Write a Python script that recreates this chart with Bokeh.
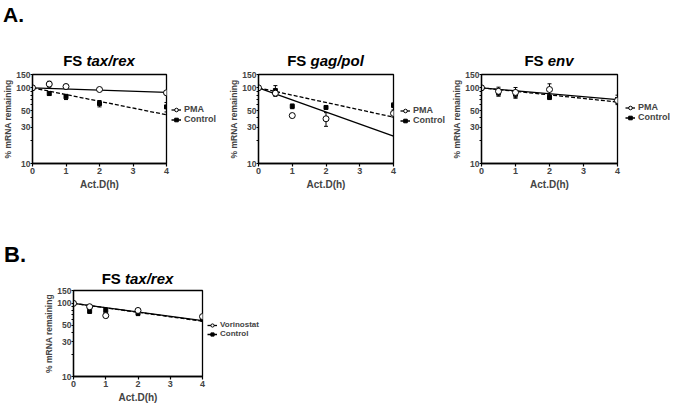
from bokeh.plotting import figure
from bokeh.models import (ColumnDataSource, Whisker, TeeHead, FixedTicker, Legend,
                          LegendItem, NumeralTickFormatter, Div)
from bokeh.layouts import row, column
from bokeh.embed import file_html
from bokeh.resources import INLINE

# ---------------- data ----------------
time_h = [0, 0.5, 1, 2, 4]
fit_t = [0, 4]
y_ticks = [10, 30, 50, 100, 150]
y_minor = [20, 40, 60, 70, 80, 90]
x_ticks = [0, 1, 2, 3, 4]

# A. FS tax/rex
taxrex_pma = [100, 112, 104, 95, 86]
taxrex_pma_err = [0, 10, 7, 3, 5]
taxrex_ctrl = [100, 84, 76, 62, 56]
taxrex_ctrl_err = [0, 4, 6, 6, 8]
taxrex_pma_fit = [100, 87]
taxrex_ctrl_fit = [100, 44]

# A. FS gag/pol
gagpol_pma = [100, 85, 43, 39, 46]
gagpol_pma_err = [0, 6, 0, 8, 5]
gagpol_ctrl = [100, 92, 57, 55, 59]
gagpol_ctrl_err = [0, 15, 4, 2, 4]
gagpol_pma_fit = [100, 23]
gagpol_ctrl_fit = [100, 41]

# A. FS env
env_pma = [100, 90, 87, 95, 68]
env_pma_err = [0, 12, 14, 18, 6]
env_ctrl = [100, 86, 82, 75, 70]
env_ctrl_err = [0, 8, 8, 5, 10]
env_pma_fit = [100, 70]
env_ctrl_fit = [100, 65]

# B. FS tax/rex (Vorinostat)
vor_trt = [100, 90, 68, 80, 66]
vor_trt_err = [0, 5, 4, 5, 4]
vor_ctrl = [100, 78, 80, 73, 61]
vor_ctrl_err = [0, 5, 6, 5, 4]
vor_trt_fit = [100, 58]
vor_ctrl_fit = [100, 57]

FONT = "Liberation Sans"
GAP = 5  # right border kept inside each panel figure


def make_panel(fw, fh, bl, bt, bb, series):
    p = figure(frame_width=fw, frame_height=fh, y_axis_type="log", x_range=(0, 4),
               y_range=(10, 150), output_backend="svg", toolbar_location=None,
               min_border_left=bl, min_border_right=GAP, min_border_top=bt,
               min_border_bottom=bb)
    p.grid.visible = False
    p.outline_line_color = "black"
    p.outline_line_width = 1.3
    p.background_fill_color = "white"
    p.border_fill_color = "white"

    for ax in (p.xaxis[0], p.yaxis[0]):
        ax.axis_line_width = 1.3
        ax.major_tick_line_width = 1.2
        ax.major_tick_in = 0
        ax.major_tick_out = 3
        ax.minor_tick_in = 0
        ax.minor_tick_out = 2
        ax.major_label_text_font = FONT
        ax.major_label_text_font_style = "bold"
        ax.major_label_text_font_size = "8.5px"
        ax.major_label_standoff = 0
        ax.axis_label_text_font = FONT
        ax.axis_label_text_font_style = "bold"
        ax.axis_label_text_font_size = "8.5px"
        ax.axis_label_standoff = 0
    p.yaxis.major_tick_out = 2
    p.yaxis.ticker = FixedTicker(ticks=y_ticks, minor_ticks=y_minor)
    p.yaxis.formatter = NumeralTickFormatter(format="0")
    p.xaxis.ticker = FixedTicker(ticks=x_ticks, minor_ticks=[])
    p.yaxis.axis_label = "% mRNA remaining"
    p.xaxis.axis_label = "Act.D(h)"
    p.xaxis.axis_label_text_font_size = "10px"
    p.xaxis.major_label_text_font_size = "9px"
    p.xaxis.major_label_standoff = 1
    p.xaxis.axis_label_standoff = 2

    for (vals, errs, fit, dash, marker, size, fill) in series:
        p.line(fit_t, fit, line_color="black", line_width=1.3, line_dash=dash)
        t_e = [t for t, e in zip(time_h, errs) if e > 0]
        v_e = [v for v, e in zip(vals, errs) if e > 0]
        e_e = [e for e in errs if e > 0]
        esrc = ColumnDataSource(dict(t=t_e, up=[v + e for v, e in zip(v_e, e_e)],
                                     lo=[v - e for v, e in zip(v_e, e_e)]))
        p.add_layout(Whisker(source=esrc, base="t", upper="up", lower="lo",
                             line_width=1, line_color="black",
                             upper_head=TeeHead(size=4, line_width=1),
                             lower_head=TeeHead(size=4, line_width=1)))
        src = ColumnDataSource(dict(t=time_h, v=vals))
        p.scatter("t", "v", source=src, marker=marker, size=size,
                  fill_color=fill, line_color="black", line_width=1)
    return p


def make_legend(width, fh, bt, bb, names, series, off_x, title_px,
                font="9px", item_h=9):
    """A small figure holding only the legend. Its renderers carry the series data,
    which lies outside this figure's (0..1) ranges, so only the legend shows."""
    lg = figure(frame_width=width - off_x, frame_height=fh, x_range=(0, 1),
                y_range=(0, 1), output_backend="svg", toolbar_location=None,
                min_border_left=off_x, min_border_top=bt,
                min_border_right=0, min_border_bottom=bb,
                x_axis_location=None, y_axis_location=None)
    lg.grid.visible = False
    lg.outline_line_color = None
    lg.background_fill_color = "white"
    lg.border_fill_color = "white"
    items = []
    for name, (vals, errs, fit, dash, marker, size, fill) in zip(names, series):
        ln = lg.line(fit_t, fit, line_color="black", line_width=1.3, line_dash=dash)
        sc = lg.scatter(time_h, vals, marker=marker, size=size, fill_color=fill,
                        line_color="black", line_width=1)
        items.append(LegendItem(label=name, renderers=[ln, sc]))
    leg = Legend(items=items, location="top_left", margin=0, padding=0, spacing=0,
                 title=" ", title_text_font_size=f"{title_px}px", title_standoff=4,
                 glyph_width=10, glyph_height=item_h, label_height=item_h,
                 label_standoff=3, label_text_font=FONT, label_text_font_style="bold",
                 label_text_font_size=font, border_line_color=None,
                 background_fill_alpha=0)
    lg.add_layout(leg)
    return lg


def title_div(italic, bl, fw, width, height, pad):
    html = (f'<div style="margin-left:{bl}px;width:{fw}px;text-align:center;'
            f'font-family:\'{FONT}\';font-weight:bold;font-size:15px;line-height:15px;'
            f'padding-top:{pad}px;white-space:nowrap;color:black">'
            f'FS <i>{italic}</i></div>')
    return Div(text=html, width=width, height=height, margin=0)


def tag_div(tag, size, height, pad_top, pad_left, width):
    html = (f'<div style="font-family:\'{FONT}\';font-weight:bold;font-size:{size}px;'
            f'line-height:{size}px;padding-top:{pad_top}px;padding-left:{pad_left}px;'
            f'color:black">{tag}</div>')
    return Div(text=html, width=width, height=height, margin=0)


def ser(vals, errs, fit, treat):
    if treat:
        return (vals, errs, fit, "solid", "circle", 6, "white")
    return (vals, errs, fit, "4 2", "square", 4, "black")


# frame geometry (pixels): left border, frame width, right border (incl. legend)
L1, F1, R1 = 32, 134, 60
L2, F2, R2 = 32, 135, 56
L3, F3, R3 = 32, 136, 57
L4, F4, R4 = 73, 129, 80

s1 = [ser(taxrex_ctrl, taxrex_ctrl_err, taxrex_ctrl_fit, False),
      ser(taxrex_pma, taxrex_pma_err, taxrex_pma_fit, True)]
s2 = [ser(gagpol_ctrl, gagpol_ctrl_err, gagpol_ctrl_fit, False),
      ser(gagpol_pma, gagpol_pma_err, gagpol_pma_fit, True)]
s3 = [ser(env_ctrl, env_ctrl_err, env_ctrl_fit, False),
      ser(env_pma, env_pma_err, env_pma_fit, True)]
s4 = [ser(vor_ctrl, vor_ctrl_err, vor_ctrl_fit, False),
      ser(vor_trt, vor_trt_err, vor_trt_fit, True)]

p1 = make_panel(F1, 89, L1, 6, 35, s1)
p2 = make_panel(F2, 89, L2, 6, 35, s2)
p3 = make_panel(F3, 89, L3, 6, 35, s3)
p4 = make_panel(F4, 86, L4, 6, 28, s4)

lg1 = make_legend(R1 - GAP, 89, 6, 35, ["PMA", "Control"], s1[::-1], 0, 22)
lg2 = make_legend(R2 - GAP, 89, 6, 35, ["PMA", "Control"], s2[::-1], 2, 23.5)
lg3 = make_legend(R3 - GAP, 89, 6, 35, ["PMA", "Control"], s3[::-1], 3, 21)
lg4 = make_legend(R4 - GAP, 86, 6, 28, ["Vorinostat", "Control"], s4[::-1], 0, 22.5,
                  font="8px", item_h=8)

tagA = tag_div("A.", 21, 30, 4, 3, 674)
tagB = tag_div("B.", 22, 70, 46, 4, 674)
t1 = title_div("tax/rex", L1, F1, L1 + F1 + R1, 38, 23)
t2 = title_div("gag/pol", L2, F2, L2 + F2 + R2, 38, 23)
t3 = title_div("env", L3, F3, L3 + F3 + R3, 38, 23)
t4 = title_div("tax/rex", L4, F4, L4 + F4 + R4, 16, 3)

layout = column(tagA, row(t1, t2, t3), row(p1, lg1, p2, lg2, p3, lg3),
                tagB, t4, row(p4, lg4))
open("out.html", "w").write(file_html(layout, INLINE))
